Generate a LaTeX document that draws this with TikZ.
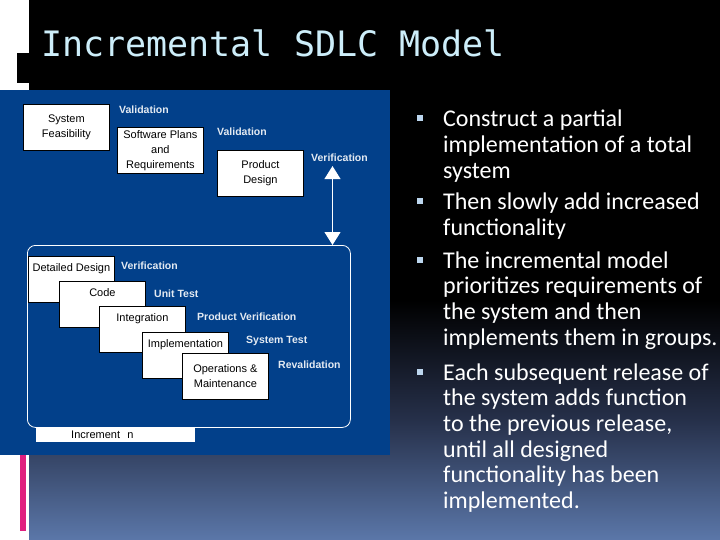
\documentclass[tikz,border=0pt]{standalone}
\usepackage{fontspec}
\setmainfont{Carlito}
\newfontfamily\arialf{Liberation Sans}
\newfontfamily\monof{DejaVu Sans Mono}
\usetikzlibrary{arrows.meta}
\definecolor{diagblue}{HTML}{02408A}
\definecolor{bgbot}{HTML}{5B77A9}
\definecolor{bgmid}{HTML}{26304A}
\definecolor{titlecol}{HTML}{CDEEFA}
\definecolor{lblcol}{HTML}{E4EAF2}
\definecolor{pinkbar}{HTML}{E0207F}
\definecolor{bulletcol}{HTML}{BCD6EE}
\begin{document}
\begin{tikzpicture}[x=1pt,y=-1pt,
  box/.style={draw=black, line width=0.8pt, fill=white, minimum width=86pt, minimum height=46pt,
    inner sep=1pt, align=center, font=\arialf\fontsize{11}{15}\selectfont, anchor=north west},
  topbox/.style={box, text height=13pt, text depth=29pt, inner ysep=2pt},
  lbl/.style={text=lblcol, font=\arialf\bfseries\fontsize{10.5}{12}\selectfont, anchor=west, inner sep=0pt},
  bul/.style={text=white, font=\fontsize{24}{25.7}\selectfont, anchor=base west, inner sep=0pt, align=left},
  sq/.style={fill=bulletcol, minimum size=6pt, inner sep=0pt},
  arr/.style={white, line width=1pt, {Triangle[width=16pt,length=13pt]}-{Triangle[width=16pt,length=13pt]}}]
\useasboundingbox (0,0) rectangle (720,540);
% background
\fill[white] (0,0) rectangle (720,540);
\fill[black] (29,0) rectangle (720,300);
\shade[top color=black, bottom color=bgbot, middle color=bgmid] (29,300) rectangle (720,540);
\fill[black] (17,53) rectangle (29,83);
\fill[pinkbar] (20,455) rectangle (26,531);
% title
\node[anchor=base west, text=titlecol, font=\monof\fontsize{35}{35}\selectfont, inner sep=0pt] (title) at (41,57) {Incremental SDLC Model};
% diagram panel
\fill[diagblue] (0,90) rectangle (390,455);
\node[box] (sf) at (23,104) {System\\Feasibility};
\node[box] (spr) at (117,127) {Software Plans\\and\\Requirements};
\node[box] (pd) at (217,150) {Product\\Design};
\node[draw=white, line width=0.8pt, rounded corners=8pt, minimum width=323pt, minimum height=182pt, anchor=north west, inner sep=0pt] (inc) at (27,245) {};
\node[topbox] (dd) at (28,256) {Detailed Design};
\node[topbox] (code) at (59,281) {Code};
\node[topbox] (integ) at (99,306) {Integration};
\node[topbox] (impl) at (142,332) {Implementation};
\node[box] (ops) at (182,353) {Operations \&\\Maintenance};
\node[fill=white, minimum width=159pt, minimum height=14pt, inner ysep=0pt, inner xsep=0pt, text width=159pt, align=left, anchor=north west, font=\arialf\fontsize{11}{12}\selectfont] (incn) at (36,428) {\hspace*{35pt}Increment\ \ n};
% labels
\node[lbl] (val1) at (119,110) {Validation};
\node[lbl] (val2) at (217,132) {Validation};
\node[lbl] (ver) at (311,158) {Verification};
\node[lbl] (ver2) at (121,266) {Verification};
\node[lbl] (ut) at (154,294) {Unit Test};
\node[lbl] (pv) at (197,317) {Product Verification};
\node[lbl] (st) at (246,341) {System Test};
\node[lbl] (rv) at (278,365) {Revalidation};
% arrow
\coordinate (atop) at ([xshift=-7pt,yshift=-4pt]ver.south);
\draw[arr] (atop) -- (atop |- inc.north);
% bullets
\node[sq] (b1) at (420,118.5) {};
\node[sq] (b2) at (420,201.5) {};
\node[sq] (b3) at (420,259.5) {};
\node[sq] (b4) at (420,371.5) {};
\node[bul] (t1) at (443,178.4) {Construct a partial\\implementation of a total\\system};
\node[bul] (t2) at (443,235.7) {Then slowly add increased\\functionality};
\node[bul] (t3) at (443,345.1) {The incremental model\\prioritizes requirements of\\the system and then\\implements them in groups.};
\node[bul] (t4) at (443,508.5) {Each subsequent release of\\the system adds function\\to the previous release,\\until all designed\\functionality has been\\implemented.};
\end{tikzpicture}
\end{document}
